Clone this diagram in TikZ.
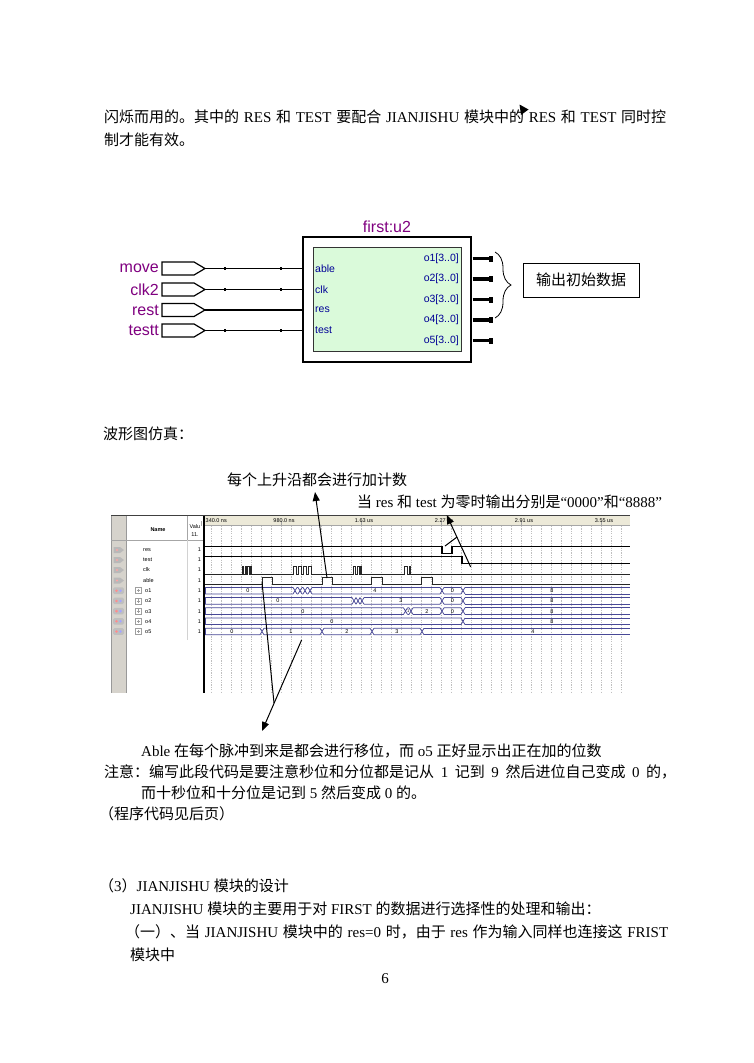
\documentclass[tikz,border=0pt]{standalone}
\usepackage{fontspec}
\setmainfont{Liberation Serif}
\setsansfont{Liberation Sans}
\newfontfamily\cjk{Noto Sans CJK SC}
\usetikzlibrary{arrows.meta,decorations.pathreplacing}
\newcommand\cj[1]{{\cjk #1}}
\definecolor{purp}{RGB}{128,0,128}
\definecolor{portblue}{RGB}{0,0,150}
\definecolor{innergreen}{RGB}{218,250,218}
\definecolor{busblue}{RGB}{72,72,150}
\definecolor{panelgray}{RGB}{214,211,204}
\definecolor{hdrgray}{RGB}{236,233,216}
\newcommand\busrow[2]{%
  \draw[busln] (205,#1-3.3) -- (205,#1+3.3);
  \foreach \tr [remember=\tr as \prevtr (initially 203)] in {#2} {
    \draw[busln] (\prevtr+2,#1-3.3) -- (\tr-2,#1-3.3) (\prevtr+2,#1+3.3) -- (\tr-2,#1+3.3)
       (\tr-2,#1-3.3) -- (\tr+2,#1+3.3) (\tr-2,#1+3.3) -- (\tr+2,#1-3.3);
    \xdef\lasttr{\tr}
  }
  \draw[busln] (\lasttr+2,#1-3.3) -- (630,#1-3.3) (\lasttr+2,#1+3.3) -- (630,#1+3.3);
}
\newcommand\pulsetrain[4][]{%
  \draw[sigln,#1] (204.5,#2) \foreach \pa/\pb in {#4} { -- (\pa,#2) -- (\pa,#3) -- (\pb,#3) -- (\pb,#2) } -- (630,#2);
}
\newcommand\inpinshape[1]{%
  \draw[inpinst] (162,#1-6.5) -- (194,#1-6.5) -- (205,#1) -- (194,#1+6.5) -- (162,#1+6.5) -- cycle;
}
\begin{document}
\begin{tikzpicture}[x=1pt,y=-1pt,
  txt/.style={inner sep=0pt, anchor=base west, font=\fontsize{15}{18}\selectfont},
  purpl/.style={inner sep=0pt, text=purp, font=\fontsize{16}{18}\sffamily},
  portlbl/.style={inner sep=0pt, text=portblue, font=\fontsize{10.5}{12}\sffamily},
  inpinst/.style={draw=black, line width=1.2pt, fill=white},
  wire/.style={line width=1.3pt},
  outstub/.style={line width=3.2pt},
  wv/.style={inner sep=0pt, font=\fontsize{5.5}{6}\sffamily},
  sigln/.style={line width=0.8pt, draw=black!85},
  sigbold/.style={line width=1.2pt, draw=black},
  busln/.style={draw=busblue, line width=0.75pt},
  gridln/.style={draw=gray!50, line width=0.45pt, dash pattern=on 1.2pt off 1.2pt},
  arrln/.style={line width=1pt, -{Triangle[length=9pt,width=7pt]}},
  annln/.style={line width=1pt}]
\useasboundingbox (0,0) rectangle (753,1063);
\fill[white] (0,0) rectangle (753,1063);

% ---------- top paragraph ----------
\node[txt] (l1) at (104,122.5) {\makebox[562pt][s]{\cj{闪烁而用的。其中的} RES \cj{和} TEST \cj{要配合} JIANJISHU \cj{模块中的} RES \cj{和} TEST \cj{同时控}}};
\node[txt] (l2) at (104,145.5) {\cj{制才能有效。}};
\fill (519.5,104.5) -- (528.5,109.5) -- (521,115) -- cycle;

% ---------- block diagram ----------
\node[purpl, anchor=base] (title) at (387,232.5) {first:u2};
\node[draw, line width=1.6pt, minimum width=168pt, minimum height=125pt, inner sep=0pt] (u2) at (387,299.5) {};
\node[draw=black!80, line width=0.6pt, fill=innergreen, minimum width=148pt, minimum height=104pt, inner sep=0pt] (u2in) at (387,299) {};

\foreach \nm/\yy in {move/268.5, clk2/289.5, rest/310, testt/330.5} {
  \inpinshape{\yy}
  \coordinate (p\nm) at (205,\yy);
  \node[purpl, anchor=east] (l\nm) at (159,\yy) {\nm};
  \draw[wire] (p\nm) -- (p\nm -| u2.west);
  \fill (223.7,\yy-1.3) rectangle (226.3,\yy+1.3);
  \fill (279.7,\yy-1.3) rectangle (282.3,\yy+1.3);
}
\node[portlbl, anchor=west] (pable) at (315,268.5) {able};
\node[portlbl, anchor=west] (pclk) at (315,289.5) {clk};
\node[portlbl, anchor=west] (pres) at (315,310) {res};
\node[portlbl, anchor=west] (ptest) at (315,330.5) {test};
\foreach \k/\yy in {1/258.5, 2/279, 3/299.5, 4/320, 5/340.5} {
  \node[portlbl, anchor=east] (po\k) at (459,\yy) {o\k[3..0]};
  \coordinate (so\k) at (490,\yy);
  \draw[outstub] (po\k -| u2.east) ++(0.8,0) -- (so\k);
  \fill (489,\yy-3) rectangle (493,\yy+3);
}
\draw[line width=0.8pt, decorate, decoration={brace, amplitude=16pt}] (495,252) -- (495,318);
\node[draw, line width=0.8pt, minimum width=116pt, minimum height=34pt, inner sep=0pt, font=\fontsize{15}{18}\cjk] (outbox) at (581,280) {输出初始数据};

% ---------- waveform caption ----------
\node[txt] (cap) at (103,439.5) {\cj{波形图仿真：}};
\node[txt] (ann1) at (227,485) {\cj{每个上升沿都会进行加计数}};
\node[txt] (ann2) at (357,507) {\cj{当} res \cj{和} test \cj{为零时输出分别是}“0000”\cj{和}“8888”};

% ---------- waveform window ----------
\fill[panelgray] (111,515.5) rectangle (126,693);
\fill[hdrgray] (204,515.5) rectangle (630,525.5);
\draw[gray!70, line width=0.5pt] (204,525.5) -- (630,525.5);
\draw[black!75, line width=0.8pt] (111,515.5) -- (630,515.5);
\draw[gray!80, line width=0.6pt] (111,515.5) -- (111,693) (126,515.5) -- (126,693);
\draw[gray!70, line width=0.5pt] (111,540) -- (204,540) (187,515.5) -- (187,540);
\draw[gray!35, line width=0.5pt] (187,540) -- (187,640);
\foreach \k in {0,...,41} \draw[gridln] (211.7+10*\k,526) -- (211.7+10*\k,693);
\foreach \k in {0,...,5} \draw[gray!70, line width=0.5pt] (201.7+80*\k,521) -- (201.7+80*\k,525.5);
\draw[black, line width=1.6pt] (204,515.5) -- (204,693);

\node[wv, font=\fontsize{5.5}{6}\sffamily\bfseries] (hname) at (158,530) {Name};
\node[wv] (hval1) at (195,526.5) {Valu};
\node[wv] (hval2) at (195,535) {11.};
\node[wv, anchor=west] (t0) at (205.5,520.5) {340.0 ns};
\node[wv] (t1) at (284,520.5) {980.0 ns};
\node[wv] (t2) at (364,520.5) {1.63 us};
\node[wv] (t3) at (444,520.5) {2.27 us};
\node[wv] (t4) at (524,520.5) {2.91 us};
\node[wv] (t5) at (604,520.5) {3.55 us};

% icons & names
\foreach \nm/\yy in {res/550, test/560, clk/570, able/580.5} {
  \fill[gray!55] (113.5,\yy-3) -- (120,\yy-3) -- (124,\yy) -- (120,\yy+3) -- (113.5,\yy+3) -- cycle;
  \fill[red!35] (117,\yy) circle (1.2);
  \node[wv, anchor=west] (n\nm) at (143,\yy) {\nm};
  \node[wv] (v\nm) at (199.5,\yy) {1};
}
\foreach \k/\yy in {1/590.7, 2/600.9, 3/611.1, 4/621.3, 5/631.5} {
  \fill[gray!50, rounded corners=1.5pt] (113,\yy-3.3) rectangle (124,\yy+3.3);
  \fill[red!45] (116.5,\yy) circle (1.4);
  \fill[blue!35] (120.5,\yy) circle (1.4);
  \draw[gray!75, line width=0.5pt] (135.5,\yy-3) rectangle (141.5,\yy+3) (136.8,\yy) -- (140.2,\yy) (138.5,\yy-1.7) -- (138.5,\yy+1.7);
  \node[wv, anchor=west] (no\k) at (145,\yy) {o\k};
  \node[wv] (vo\k) at (199.5,\yy) {1};
}

% single-bit signals
\draw[sigbold] (204.5,546.5) -- (442,546.5) -- (442,553.5) -- (452,553.5) -- (452,546.5) -- (630,546.5);
\draw[sigbold] (204.5,556.5) -- (462,556.5) -- (462,563.5) -- (630,563.5);
\pulsetrain[line width=0.6pt]{574}{566}{242/243.3, 244.8/246.1, 247.6/248.9, 250.3/251.7, 293/296, 298/301, 303/306, 308/311, 353.3/355.7, 357/359.3, 360.7/361.7, 404/407, 409/410.3}
\pulsetrain{584}{577.3}{262/272, 322/332, 371/382, 421/432}

% buses
\busrow{590.7}{295,300,305,310,442,463}
\busrow{600.9}{354,358,362,442,463}
\busrow{611.1}{405.5,411,442,463}
\busrow{621.3}{463}
\busrow{631.5}{262,322,372,422}
\node[wv] (b1a) at (248,590.7) {0};
\node[wv] (b1b) at (375,590.7) {4};
\node[wv] (b1c) at (452.5,590.7) {0};
\node[wv] (b1d) at (552,590.7) {8};
\node[wv] (b2a) at (278,600.9) {0};
\node[wv] (b2b) at (401,600.9) {3};
\node[wv] (b2c) at (452.5,600.9) {0};
\node[wv] (b2d) at (552,600.9) {8};
\node[wv] (b3a) at (303,611.1) {0};
\node[wv, font=\fontsize{4}{5}\sffamily] (b3b) at (408.2,611.1) {1};
\node[wv] (b3c) at (427,611.1) {2};
\node[wv] (b3d) at (452.5,611.1) {0};
\node[wv] (b3e) at (552,611.1) {8};
\node[wv] (b4a) at (332,621.3) {0};
\node[wv] (b4b) at (552,621.3) {8};
\node[wv] (b5a) at (232,631.5) {0};
\node[wv] (b5b) at (291,631.5) {1};
\node[wv] (b5c) at (347,631.5) {2};
\node[wv] (b5d) at (397,631.5) {3};
\node[wv] (b5e) at (533,631.5) {4};

% annotation arrows
\coordinate (a1tail) at (327,578);
\coordinate (a1tip) at (315,492);
\draw[arrln] (a1tail) -- (a1tip);
\coordinate (a2tail) at (470.7,567);
\coordinate (a2tip) at (446.7,515);
\coordinate (a2br) at (445,546);
\coordinate (a2join) at (457,537);
\draw[arrln] (a2tail) -- (a2tip);
\draw[annln] (a2br) -- (a2join);
\coordinate (a3top) at (262,582);
\coordinate (a3mid) at (274,703);
\coordinate (a3start) at (301.6,640);
\coordinate (a3tip) at (262,731);
\draw[annln] (a3top) -- (a3mid);
\draw[arrln] (a3start) -- (a3tip);

% ---------- lower text ----------
\node[txt] (b1) at (141,756) {Able \cj{在每个脉冲到来是都会进行移位，而} o5 \cj{正好显示出正在加的位数}};
\node[txt] (b2) at (104,777) {\makebox[572pt][s]{\cj{注意：编写此段代码是要注意秒位和分位都是记从} 1 \cj{记到} 9 \cj{然后进位自己变成} 0 \cj{的，}}};
\node[txt] (b3) at (141,798) {\cj{而十秒位和十分位是记到} 5 \cj{然后变成} 0 \cj{的。}};
\node[txt] (b4) at (99,819) {\cj{（程序代码见后页）}};
\node[txt] (c1) at (99,891) {\cj{（}3\cj{）}JIANJISHU \cj{模块的设计}};
\node[txt] (c2) at (130,914) {JIANJISHU \cj{模块的主要用于对} FIRST \cj{的数据进行选择性的处理和输出：}};
\node[txt] (c3) at (125,937) {\makebox[543pt][s]{\cj{（一）、当} JIANJISHU \cj{模块中的} res=0 \cj{时，由于} res \cj{作为输入同样也连接这} FRIST}};
\node[txt] (c4) at (130,960) {\cj{模块中}};
\node[txt, anchor=base] (pg) at (385,983) {6};
\end{tikzpicture}
\end{document}
